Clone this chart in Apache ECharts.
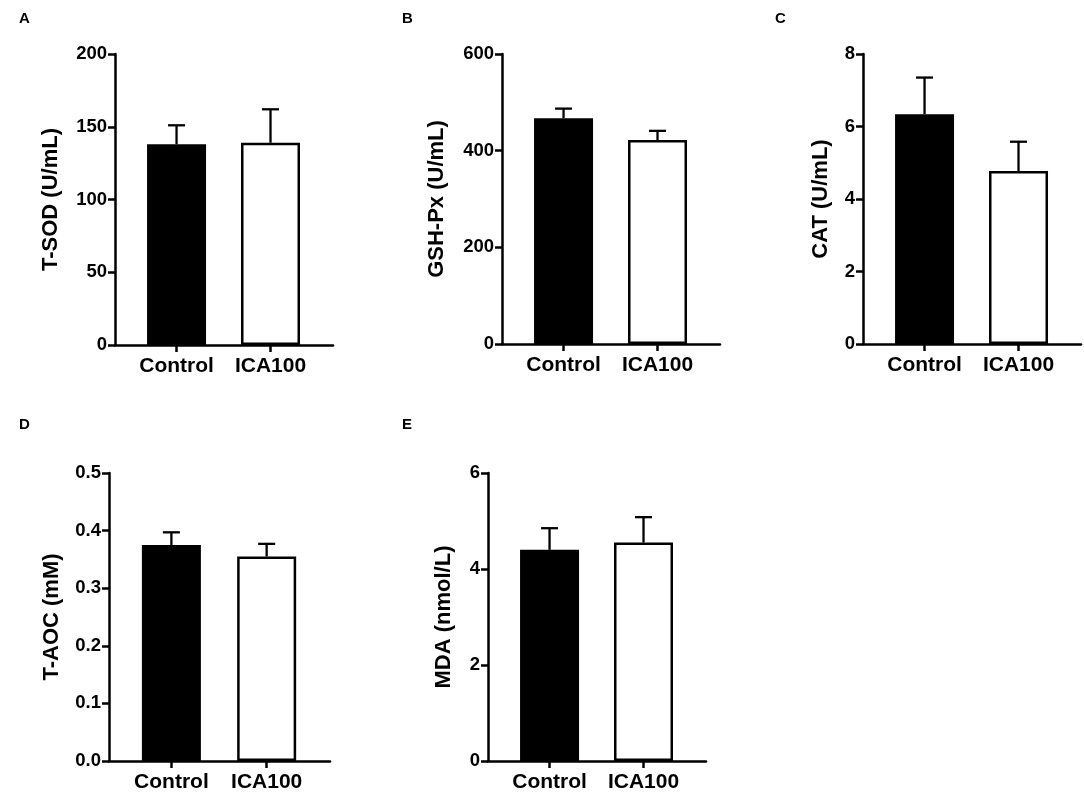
<!DOCTYPE html>
<html>
<head>
<meta charset="utf-8">
<script src="https://cdn.jsdelivr.net/npm/echarts@6/dist/echarts.min.js"></script>
<style>
html,body{margin:0;padding:0;background:#fff;}
#chart{width:1084px;height:793px;}
</style>
</head>
<body>
<div id="chart"></div>
<script>
// ---- data ----
const categories = ['Control', 'ICA100'];
const panelLetters = ['A', 'B', 'C', 'D', 'E'];
const yTitles = ['T-SOD (U/mL)', 'GSH-Px (U/mL)', 'CAT (U/mL)', 'T-AOC (mM)', 'MDA (nmol/L)'];
const yMaxes = [200, 600, 8, 0.5, 6];
const yIntervals = [50, 200, 2, 0.1, 2];
const yDecimals = [0, 0, 0, 1, 0];

const tsodMean = [138, 139];
const tsodErr = [13, 23];
const gshMean = [467, 422];
const gshErr = [20, 19];
const catMean = [6.34, 4.77];
const catErr = [1.01, 0.81];
const taocMean = [0.375, 0.355];
const taocErr = [0.022, 0.022];
const mdaMean = [4.40, 4.55];
const mdaErr = [0.45, 0.53];

const means = [tsodMean, gshMean, catMean, taocMean, mdaMean];
const errs = [tsodErr, gshErr, catErr, taocErr, mdaErr];

// ---- layout ----
const grids = [
  {left: 115, top: 54, width: 218, height: 291},
  {left: 502, top: 54, width: 218, height: 290},
  {left: 863, top: 54, width: 218, height: 290},
  {left: 109, top: 473, width: 221, height: 291},
  {left: 488, top: 473, width: 218, height: 290}
];
const nameGaps = [53, 54, 31, 46, 33];
const letterPos = [[19, 11], [402, 11], [775, 11], [19, 417], [402, 417]];
const xOffset = 0.655;
const xSpan = 2.32;
const font = 'Liberation Sans, Arial, Helvetica, sans-serif';

const option = {
  backgroundColor: '#fff',
  animation: false,
  title: panelLetters.map((l, i) => ({
    text: l, left: letterPos[i][0], top: letterPos[i][1], padding: 0,
    textStyle: {fontFamily: font, fontWeight: 'bold', fontSize: 15, color: '#000'}
  })),
  grid: grids.map(g => Object.assign({containLabel: false}, g)),
  xAxis: grids.map((g, i) => ({
    type: 'value', gridIndex: i, min: 0, max: xSpan,
    splitLine: {show: false},
    axisLine: {show: true, lineStyle: {color: '#000', width: 2.5}},
    axisTick: {show: true, length: 7, lineStyle: {color: '#000', width: 2.5},
      customValues: categories.map((c, k) => k + xOffset)},
    axisLabel: {show: true, margin: 11, color: '#000', fontFamily: font, fontWeight: 'bold', fontSize: 21,
      customValues: categories.map((c, k) => k + xOffset),
      formatter: v => categories[Math.round(v - xOffset)] || ''}
  })),
  yAxis: grids.map((g, i) => ({
    type: 'value', gridIndex: i, min: 0, max: yMaxes[i], interval: yIntervals[i],
    name: yTitles[i], nameLocation: 'middle', nameGap: nameGaps[i],
    nameTextStyle: {fontFamily: font, fontWeight: 'bold', fontSize: 22, color: '#000'},
    splitLine: {show: false},
    axisLine: {show: true, lineStyle: {color: '#000', width: 2.5}},
    axisTick: {show: true, length: 7, lineStyle: {color: '#000', width: 2.5}},
    axisLabel: {margin: 8, color: '#000', fontFamily: font, fontWeight: 'bold', fontSize: 18.5,
      formatter: v => Number(v).toFixed(yDecimals[i])}
  })),
  series: []
};

means.forEach((m, i) => {
  option.series.push({
    type: 'bar', xAxisIndex: i, yAxisIndex: i, barWidth: 59,
    data: m.map((v, k) => ({
      value: [k + xOffset, v],
      itemStyle: k === 0 ? {color: '#000', borderColor: '#000', borderWidth: 0}
                         : {color: '#fff', borderColor: '#000', borderWidth: 2.5}
    })),
    z: 2
  });
  option.series.push({
    type: 'custom', xAxisIndex: i, yAxisIndex: i, z: 3,
    data: m.map((v, k) => [k + xOffset, v, errs[i][k]]),
    renderItem: (params, api) => {
      const x = api.value(0), mv = api.value(1), e = api.value(2);
      const b = api.coord([x, mv]);
      const t = api.coord([x, mv + e]);
      const hw = 8.5;
      const st = {stroke: '#000', lineWidth: 2.3};
      return {type: 'group', children: [
        {type: 'line', shape: {x1: b[0], y1: b[1], x2: t[0], y2: t[1]}, style: st},
        {type: 'line', shape: {x1: t[0] - hw, y1: t[1], x2: t[0] + hw, y2: t[1]}, style: st}
      ]};
    }
  });
});

const chart = echarts.init(document.getElementById('chart'), null, {renderer: 'canvas'});
chart.setOption(option);
</script>
</body>
</html>
